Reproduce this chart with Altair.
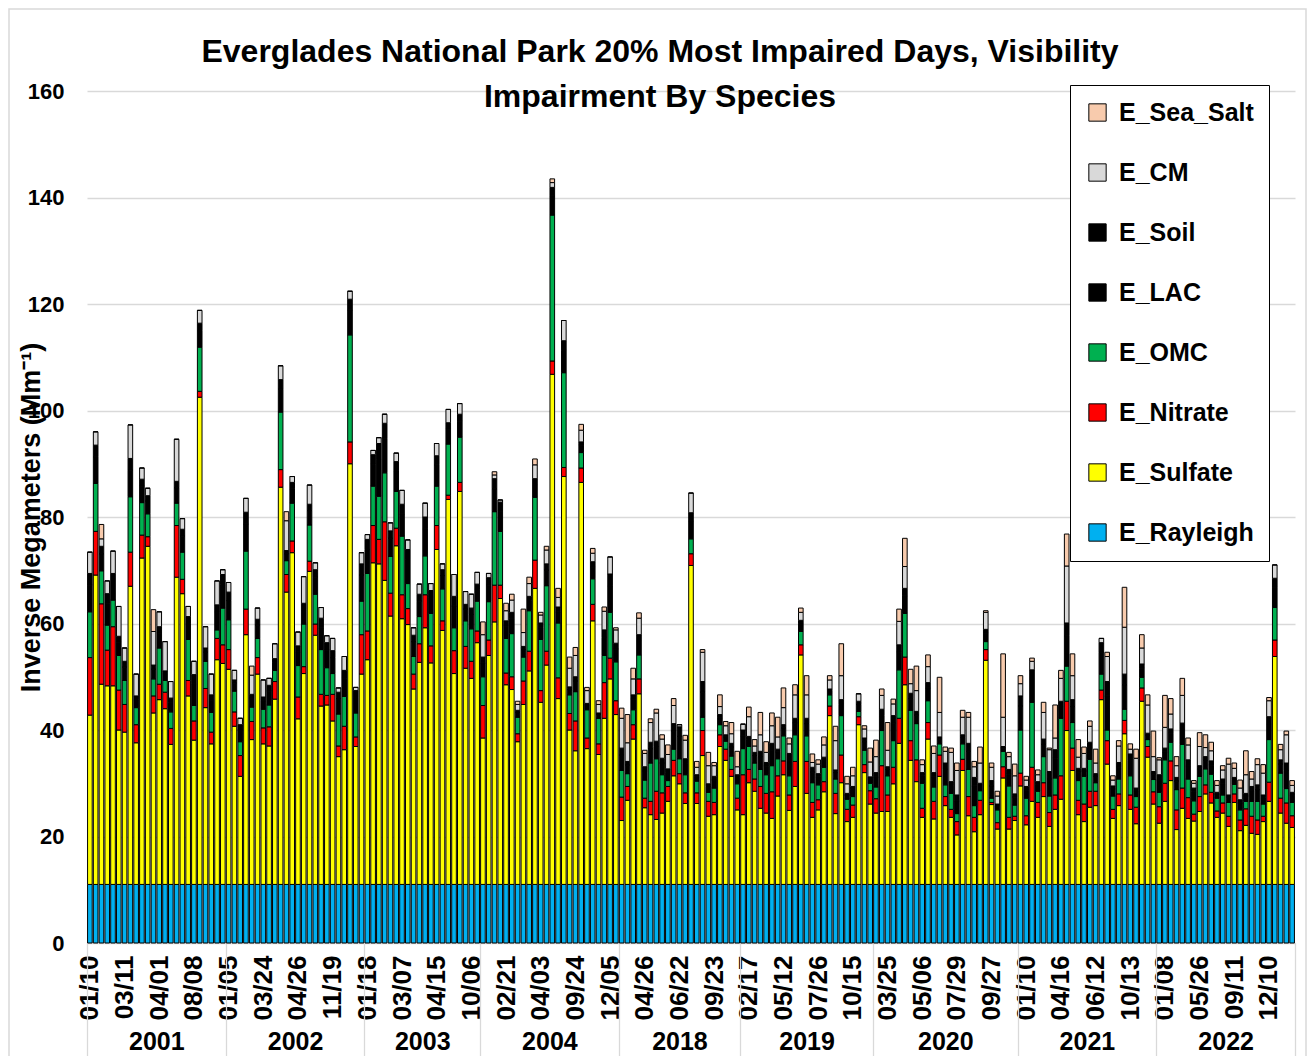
import altair as alt
import pandas as pd

# ---------------- data ----------------
TITLE_LINES = ["Everglades National Park 20% Most Impaired Days, Visibility",
               "Impairment By Species"]
YEARS = ["2001", "2002", "2003", "2004", "2018", "2019", "2020", "2021", "2022"]
DAYS_PER_YEAR = [24, 24, 20, 24, 21, 23, 25, 24, 24]

TICK_EVERY = 6
TICK_LABELS = ["01/10", "03/11", "04/01", "08/08",
               "01/05", "03/24", "04/26", "11/19",
               "01/18", "03/07", "04/15", "10/06",
               "02/21", "04/03", "09/24", "12/05",
               "04/26", "06/22", "09/23",
               "02/17", "05/12", "07/26", "10/15",
               "03/25", "05/06", "07/29", "09/27",
               "01/10", "04/16", "06/12", "10/13",
               "01/08", "05/26", "09/11", "12/10"]

RAYLEIGH = 11.0  # same on every day

SULFATE = [
    31.8, 58.1, 37.6, 37.3, 37.3, 29.0, 28.6, 56.0, 26.6, 61.3, 63.5, 32.2, 34.7, 33.0, 26.3, 57.7, 54.6, 35.4, 27.1, 91.5, 33.2, 26.4, 42.2, 41.5,
    40.4, 29.7, 20.3, 46.9, 27.2, 39.5, 26.4, 26.0, 34.8, 74.6, 54.9, 62.3, 31.1, 39.6, 58.8, 46.8, 33.5, 33.7, 30.7, 24.0, 25.3, 79.0, 25.9, 39.5,
    42.2, 60.4, 60.2, 57.1, 50.4, 63.6, 49.9, 48.8, 36.7, 41.7, 48.2, 41.6, 62.9, 47.7, 72.3, 39.6, 73.8, 40.6, 38.7, 45.4,
    27.5, 43.0, 49.3, 53.7, 37.5, 36.6, 26.8, 33.8, 40.1, 55.6, 34.2, 41.2, 95.8, 34.9, 76.6, 29.0, 25.1, 75.5, 25.5, 49.5, 24.4, 31.2, 38.6, 31.9,
    12.0, 15.8, 27.3, 35.8, 14.4, 13.1, 12.2, 13.4, 15.6, 20.4, 18.9, 15.2, 59.9, 15.2, 24.2, 12.8, 13.1, 25.9, 23.3, 20.3, 14.0,
    13.1, 19.1, 17.5, 14.3, 13.4, 12.4, 16.6, 20.6, 13.9, 18.4, 43.1, 17.1, 12.6, 14.0, 17.4, 31.7, 13.3, 19.1, 11.8, 12.6, 30.0, 21.0, 15.1,
    13.4, 13.7, 13.7, 18.9, 26.5, 37.5, 23.3, 19.3, 12.6, 27.3, 12.3, 20.3, 14.8, 12.6, 9.3, 21.4, 12.9, 9.9, 13.1, 42.1, 15.0, 10.4, 20.0, 10.4, 12.0,
    18.5, 11.2, 15.6, 12.6, 16.5, 10.9, 14.1, 16.0, 28.9, 21.4, 13.1, 11.8, 14.5, 14.8, 34.7, 22.6, 12.4, 14.8, 28.3, 14.1, 11.4, 34.4, 23.9, 15.1,
    11.5, 15.6, 19.5, 10.3, 14.3, 12.4, 11.9, 13.7, 17.0, 15.3, 12.6, 13.4, 10.9, 15.4, 10.1, 11.1, 9.6, 9.4, 11.8, 15.6, 42.8, 13.4, 11.5, 10.7,
]

NITRATE = [
    10.8, 8.2, 15.1, 6.7, 11.1, 7.5, 5.2, 6.4, 3.4, 4.3, 1.8, 3.2, 2.9, 3.1, 3.0, 9.7, 2.7, 2.9, 3.6, 1.1, 3.6, 2.2, 4.0, 3.5,
    3.7, 2.7, 3.9, 4.8, 3.4, 3.1, 3.0, 3.6, 3.3, 3.3, 3.3, 2.2, 4.1, 1.3, 1.9, 2.1, 2.2, 1.8, 5.0, 2.0, 4.4, 4.1, 1.8, 7.4,
    5.4, 7.0, 4.6, 11.0, 4.3, 3.3, 4.5, 3.0, 2.8, 3.5, 6.2, 3.2, 4.5, 1.8, 0.8, 4.3, 1.7, 4.1, 3.2, 2.2,
    6.1, 2.9, 6.9, 2.5, 2.2, 2.4, 1.5, 4.4, 3.7, 5.3, 2.2, 2.6, 2.5, 3.9, 1.7, 3.1, 5.6, 2.7, 2.0, 3.1, 2.0, 6.7, 3.9, 2.6,
    4.4, 2.6, 2.7, 2.8, 1.8, 2.5, 5.3, 3.8, 2.8, 2.9, 1.9, 2.0, 2.2, 2.0, 4.7, 2.8, 2.3, 2.2, 2.1, 1.3, 2.2,
    7.5, 2.5, 2.3, 4.1, 3.7, 5.0, 3.8, 2.6, 2.9, 4.7, 1.9, 6.0, 2.8, 1.9, 1.9, 1.8, 3.8, 5.2, 2.3, 2.3, 1.5, 1.5, 2.5,
    2.7, 8.6, 3.1, 3.1, 4.7, 5.2, 3.7, 4.1, 1.7, 3.1, 3.3, 4.0, 1.7, 1.5, 2.5, 2.1, 3.6, 2.7, 2.7, 2.0, 0.4, 1.2, 2.1, 2.2, 0.8,
    2.4, 1.7, 6.4, 2.8, 2.6, 2.6, 2.7, 4.4, 5.5, 4.2, 2.7, 3.3, 3.0, 2.7, 1.8, 4.4, 1.7, 2.2, 2.5, 2.7, 3.1, 2.5, 2.0, 2.3,
    3.1, 3.4, 3.7, 3.7, 3.8, 3.9, 1.3, 2.8, 1.7, 2.0, 1.2, 1.9, 1.9, 1.6, 2.0, 3.1, 3.2, 2.7, 1.0, 3.6, 3.1, 2.8, 3.8, 2.2,
]

OMC = [
    8.6, 9.0, 6.2, 4.7, 5.0, 6.5, 4.5, 10.4, 3.2, 6.1, 4.3, 3.2, 6.8, 2.2, 3.1, 4.2, 5.1, 7.7, 2.9, 8.3, 5.1, 3.7, 1.6, 6.9,
    5.6, 3.9, 2.6, 10.9, 2.7, 3.6, 3.5, 4.1, 2.1, 10.8, 2.6, 7.1, 5.9, 8.0, 6.8, 5.6, 8.4, 5.2, 3.9, 6.0, 5.6, 20.1, 4.5, 6.3,
    10.8, 7.4, 8.1, 9.2, 6.9, 6.9, 11.0, 4.7, 3.3, 5.1, 7.3, 6.1, 7.4, 6.0, 9.6, 4.3, 8.5, 4.8, 6.1, 5.6,
    5.4, 7.2, 13.8, 10.1, 6.5, 8.1, 3.1, 4.5, 7.6, 11.8, 9.6, 12.3, 27.4, 10.3, 17.8, 3.5, 5.5, 2.9, 5.3, 4.8, 4.8, 5.1, 8.6, 7.3,
    5.0, 2.4, 2.8, 4.5, 3.4, 7.2, 6.1, 3.4, 1.1, 2.1, 2.8, 3.4, 2.8, 2.2, 2.5, 1.7, 2.7, 1.9, 1.5, 2.5, 2.7,
    4.9, 4.3, 3.0, 3.2, 3.5, 4.9, 3.2, 4.7, 3.6, 5.0, 2.5, 4.8, 3.7, 2.8, 2.7, 2.1, 2.7, 7.4, 1.9, 1.6, 1.0, 2.7, 1.4,
    2.2, 6.6, 3.6, 5.0, 9.1, 8.2, 5.7, 6.8, 4.7, 4.1, 2.7, 2.1, 2.2, 3.0, 1.5, 2.9, 5.1, 2.2, 1.8, 1.5, 0.8, 2.4, 2.9, 5.9, 2.1,
    8.1, 3.3, 12.2, 2.1, 4.9, 3.1, 3.2, 10.8, 6.6, 4.8, 3.7, 5.2, 6.0, 1.6, 3.0, 2.0, 2.5, 2.8, 2.1, 3.6, 2.0, 2.0, 1.3, 2.3,
    2.7, 4.4, 3.5, 3.8, 8.2, 3.5, 2.5, 3.8, 3.0, 3.4, 2.4, 1.5, 2.6, 1.8, 1.9, 1.4, 2.8, 3.5, 2.3, 8.0, 6.1, 4.7, 2.7, 2.5,
]

LAC = [
    5.0, 5.0, 3.2, 4.1, 3.5, 2.5, 2.5, 5.0, 1.5, 3.1, 2.4, 1.8, 2.8, 1.3, 1.8, 2.9, 3.0, 3.0, 4.1, 3.1, 1.7, 2.3, 3.3, 4.4,
    3.6, 1.5, 2.2, 5.1, 1.7, 2.5, 1.6, 2.6, 1.5, 4.3, 1.3, 2.7, 2.6, 2.7, 2.7, 3.2, 4.1, 3.3, 3.0, 2.9, 3.4, 4.7, 2.9, 4.9,
    4.5, 4.1, 6.9, 6.5, 3.4, 3.9, 4.2, 4.5, 2.8, 2.9, 5.1, 3.0, 4.0, 2.5, 2.8, 4.1, 3.0, 2.2, 2.7, 2.2,
    2.6, 3.1, 4.3, 3.8, 2.3, 2.8, 0.9, 1.4, 1.9, 2.4, 2.2, 2.9, 3.6, 2.1, 4.2, 1.0, 2.0, 1.4, 0.8, 2.2, 0.7, 3.4, 5.0, 2.4,
    2.9, 1.6, 2.0, 2.7, 1.7, 2.7, 2.3, 2.2, 1.5, 3.4, 4.2, 2.1, 3.4, 0.8, 4.7, 1.1, 1.5, 1.3, 0.8, 1.7, 1.2,
    2.4, 1.3, 1.4, 2.4, 1.6, 2.9, 1.3, 1.5, 2.9, 2.2, 1.5, 2.3, 2.0, 1.5, 1.3, 0.8, 1.2, 2.1, 0.8, 1.3, 1.3, 1.6, 0.8,
    1.9, 2.8, 1.2, 3.3, 3.3, 3.3, 2.2, 1.6, 1.4, 2.4, 1.9, 0.9, 2.9, 1.5, 2.4, 1.2, 3.4, 3.7, 1.0, 1.6, 2.3, 0.8, 0.6, 2.2, 1.5,
    4.5, 1.5, 4.3, 1.3, 2.3, 3.2, 3.7, 2.2, 5.7, 3.0, 1.6, 1.0, 2.2, 1.2, 4.1, 6.4, 1.3, 2.2, 4.6, 2.9, 1.1, 1.7, 0.8, 1.0,
    2.3, 1.5, 1.7, 1.6, 2.8, 2.5, 1.7, 1.4, 1.6, 1.7, 0.8, 2.1, 1.0, 0.9, 1.3, 1.0, 2.0, 2.2, 1.2, 3.0, 3.8, 1.7, 3.4, 1.3,
]

SOIL = [
    2.2, 2.2, 1.4, 1.8, 1.5, 1.1, 1.1, 2.2, 0.7, 1.3, 1.0, 0.8, 1.2, 0.5, 0.8, 1.2, 1.3, 1.3, 1.7, 1.4, 0.8, 1.0, 1.4, 1.9,
    1.6, 0.6, 1.0, 2.2, 0.7, 1.1, 0.7, 1.1, 0.7, 1.8, 0.6, 1.2, 1.1, 1.2, 1.2, 1.4, 1.8, 1.4, 1.3, 1.2, 1.5, 2.0, 1.3, 2.1,
    1.9, 1.8, 3.0, 2.8, 1.4, 1.7, 1.8, 1.9, 1.2, 1.3, 2.2, 1.3, 1.7, 1.1, 1.2, 1.8, 1.3, 0.9, 1.2, 1.0,
    1.1, 1.4, 1.9, 1.7, 1.0, 1.2, 0.4, 0.6, 0.8, 1.1, 0.9, 1.2, 1.6, 0.9, 1.8, 0.5, 0.8, 0.6, 0.4, 1.0, 0.3, 1.4, 2.2, 1.1,
    1.3, 0.7, 0.8, 1.1, 0.8, 1.2, 1.0, 0.9, 0.7, 1.4, 1.8, 0.9, 1.5, 0.4, 2.0, 0.5, 0.7, 0.6, 0.4, 0.7, 0.5,
    1.1, 0.6, 0.6, 1.0, 0.7, 1.3, 0.5, 0.6, 1.3, 0.9, 0.6, 1.0, 0.9, 0.6, 0.6, 0.3, 0.5, 0.9, 0.3, 0.6, 0.6, 0.7, 0.4,
    0.8, 1.2, 0.5, 1.4, 1.4, 1.4, 1.0, 0.7, 0.6, 1.0, 0.8, 0.4, 1.2, 0.7, 1.1, 0.5, 1.5, 1.6, 0.4, 0.7, 1.0, 0.3, 0.3, 0.9, 0.6,
    1.9, 0.7, 1.8, 0.5, 1.0, 1.4, 1.6, 1.0, 2.4, 1.3, 0.7, 0.5, 1.0, 0.5, 1.8, 2.7, 0.6, 0.9, 2.0, 1.2, 0.5, 0.8, 0.4, 0.5,
    1.0, 0.7, 0.8, 0.7, 1.2, 1.1, 0.7, 0.6, 0.7, 0.8, 0.3, 0.9, 0.4, 0.4, 0.6, 0.5, 0.8, 0.9, 0.5, 1.3, 1.7, 0.8, 1.4, 0.6,
]

CM = [
    4.0, 2.5, 1.4, 2.4, 4.2, 5.6, 2.5, 6.3, 4.1, 2.1, 1.4, 6.3, 2.8, 5.5, 3.1, 7.9, 2.0, 1.9, 2.5, 2.4, 4.0, 3.9, 4.5, 0.9,
    1.8, 1.8, 1.2, 2.6, 3.6, 2.1, 3.2, 1.3, 2.8, 2.6, 5.6, 1.1, 2.6, 5.0, 3.6, 1.3, 2.0, 1.3, 2.3, 0.8, 2.6, 1.5, 0.6, 2.1,
    0.9, 0.8, 1.1, 1.7, 1.5, 1.6, 2.6, 1.8, 1.4, 1.9, 2.6, 1.3, 2.3, 1.1, 2.5, 4.1, 2.0, 2.4, 2.6, 2.2,
    4.2, 0.8, 0.7, 0.4, 1.9, 2.3, 1.1, 2.6, 2.4, 2.6, 1.5, 2.6, 0.9, 1.8, 3.8, 3.5, 4.0, 2.2, 2.4, 1.6, 1.6, 3.5, 3.2, 2.5,
    5.6, 3.5, 3.0, 3.1, 2.5, 3.7, 5.3, 3.6, 2.7, 3.4, 0.4, 3.5, 3.7, 1.4, 5.5, 3.4, 2.0, 1.5, 1.7, 1.8, 1.5,
    1.1, 3.7, 1.2, 3.1, 1.9, 3.3, 2.3, 3.2, 1.8, 4.4, 1.5, 4.4, 0.9, 1.8, 2.3, 1.7, 5.5, 4.5, 1.8, 2.0, 1.4, 1.7, 2.8,
    3.0, 2.6, 3.1, 2.2, 4.4, 4.1, 1.8, 3.9, 1.5, 3.0, 3.6, 4.6, 2.2, 5.5, 4.6, 3.3, 4.9, 2.0, 3.8, 3.2, 2.5, 1.5, 5.5, 2.4, 3.4,
    2.3, 1.2, 1.6, 1.3, 5.0, 4.1, 2.2, 4.3, 10.7, 4.5, 2.1, 2.8, 3.0, 2.0, 0.8, 4.7, 1.1, 3.1, 8.8, 0.9, 5.6, 3.0, 5.3, 2.8,
    2.8, 3.9, 2.8, 2.2, 5.2, 2.8, 0.9, 3.6, 1.7, 1.9, 1.3, 1.7, 5.8, 1.7, 2.2, 3.5, 1.4, 3.8, 4.1, 3.0, 2.5, 1.9, 5.3, 1.3,
]

SEA_SALT = [
    0, 0, 2.7, 0, 0, 0, 0, 0, 0, 0, 0, 4.1, 0, 0, 0, 0, 0, 0, 0, 0, 0, 0, 0, 0,
    0, 0, 0, 0, 1.7, 0, 0, 0, 0, 0, 1.7, 0, 0, 0, 0, 0, 0, 0, 0, 0, 0, 0, 0, 0,
    0, 0, 0, 0, 0, 0, 0, 0, 0, 0, 0, 0, 0, 0, 0, 0, 0, 0, 0, 0,
    2.4, 0, 0.6, 0, 1.4, 1.1, 0.6, 4.4, 1.2, 1.1, 0.5, 0.7, 0.7, 1.7, 0, 2.1, 1.5, 1.1, 0.6, 0.9, 0.7, 0.8, 0, 0.4,
    1.9, 5.3, 2.0, 1.0, 0.6, 0.7, 0.7, 0.8, 1.8, 1.3, 0, 0.9, 0, 1.1, 0.5, 2.5, 0.6, 2.2, 0.8, 2.1, 2.9,
    0, 1.8, 1.2, 4.2, 2.0, 2.4, 3.7, 3.7, 1.1, 1.9, 0.8, 3.6, 1.6, 0.8, 1.5, 0.8, 2.7, 6.0, 1.4, 1.6, 0, 0.6, 2.6,
    3.1, 1.2, 5.2, 0.9, 2.3, 5.3, 2.7, 4.6, 0.9, 2.2, 1.4, 6.6, 0.8, 0.8, 1.4, 1.3, 0.9, 1.0, 3.0, 0.3, 0.8, 0.9, 11.9, 0.8, 2.2,
    1.5, 0.7, 0.6, 0.9, 1.9, 0.3, 6.2, 1.5, 6.0, 4.1, 3.3, 1.2, 1.0, 2.6, 0, 0.8, 0.8, 1.0, 7.5, 1.0, 1.7, 2.5, 1.9, 4.8,
    0.4, 6.0, 2.9, 1.7, 3.2, 1.3, 0.5, 2.6, 2.4, 1.6, 0.9, 0.8, 1.1, 1.0, 1.5, 4.5, 1.4, 1.1, 1.6, 0.6, 0, 1.0, 0.7, 0.9,
]

# stacking order, bottom to top
SPECIES = ["E_Rayleigh", "E_Sulfate", "E_Nitrate", "E_OMC", "E_LAC", "E_Soil", "E_CM", "E_Sea_Salt"]
COLORS = ["#00B0F0", "#FFFF00", "#FF0000", "#00B050", "#000000", "#000000", "#D9D9D9", "#F8CBAD"]

# ---------------- build tables ----------------
N = sum(DAYS_PER_YEAR)
series = {
    "E_Rayleigh": [RAYLEIGH] * N,
    "E_Sulfate": SULFATE,
    "E_Nitrate": NITRATE,
    "E_OMC": OMC,
    "E_LAC": LAC,
    "E_Soil": SOIL,
    "E_CM": CM,
    "E_Sea_Salt": SEA_SALT,
}
rows = []
for k, sp in enumerate(SPECIES):
    vals = series[sp]
    assert len(vals) == N, (sp, len(vals), N)
    for i, v in enumerate(vals):
        rows.append({"day": i, "species": sp, "order": k, "value": float(v)})
df = pd.DataFrame(rows)

starts = []
s = 0
for c in DAYS_PER_YEAR:
    starts.append(s)
    s += c
year_df = pd.DataFrame({
    "year": YEARS,
    "center": [st + (c - 1) / 2 for st, c in zip(starts, DAYS_PER_YEAR)],
})
edge_df = pd.DataFrame({"edge": [st - 0.5 for st in starts] + [N - 0.5]})

FONT = "Liberation Sans"
GRID = "#D9D9D9"
W, H = 1208, 852
PAD = {"left": 79, "top": 83, "right": 12, "bottom": 113}

xscale = alt.Scale(domain=[-0.5, N - 0.5], nice=False, zero=False)
yscale = alt.Scale(domain=[0, 160], nice=False)

tick_values = list(range(0, TICK_EVERY * len(TICK_LABELS), TICK_EVERY))
tick_expr = "[" + ",".join("'%s'" % t for t in TICK_LABELS) + "][round(datum.value / %d)]" % TICK_EVERY
year_expr = ("[" + ",".join("'%s'" % y for y in YEARS) + "][indexof(["
             + ",".join(repr(c) for c in year_df["center"]) + "], datum.value)]")

legend_order = list(reversed(SPECIES))
legend_colors = list(reversed(COLORS))

bars = (
    alt.Chart(df)
    .transform_stack(stack="value", groupby=["day"], as_=["y0", "y1"],
                     sort=[alt.SortField("order", order="ascending")])
    .transform_calculate(x0="datum.day - 0.4", x1="datum.day + 0.4")
    .mark_rect(stroke="black", strokeWidth=1)
    .encode(
        x=alt.X("x0:Q", scale=xscale,
                axis=alt.Axis(orient="bottom", values=tick_values, labelExpr=tick_expr,
                              labelAngle=270, labelFontSize=26, labelFontWeight="bold",
                              labelFont=FONT, labelPadding=12, labelOverlap=False,
                              labelFlush=False, ticks=False, grid=False,
                              domainColor=GRID, title=None)),
        x2="x1:Q",
        y=alt.Y("y0:Q", scale=yscale,
                axis=alt.Axis(values=list(range(0, 161, 20)), labelFontSize=22,
                              labelFontWeight="bold", labelFont=FONT, labelPadding=23,
                              ticks=False, domain=False, gridColor=GRID, gridWidth=1.3,
                              title="Inverse Megameters (Mm\u207b\u00b9)",
                              titleFontSize=27, titleFontWeight="bold", titleFont=FONT,
                              titleAngle=270, titleX=-56, titleY=426,
                              titleAlign="center", titleBaseline="middle")),
        y2="y1:Q",
        color=alt.Color("species:N", title=None,
                        scale=alt.Scale(domain=legend_order, range=legend_colors),
                        legend=alt.Legend(orient="none", legendX=983, legendY=-6,
                                          direction="vertical",
                                          symbolType="square", symbolSize=300,
                                          symbolStrokeColor="black", symbolStrokeWidth=1,
                                          labelFontSize=25, labelFontWeight="bold",
                                          labelFont=FONT, labelLimit=300, labelOffset=9,
                                          rowPadding=34, padding=15,
                                          fillColor="white", strokeColor="black")),
    )
)

year_layer = (
    alt.Chart(year_df)
    .mark_rule(opacity=0)
    .encode(x=alt.X("center:Q", scale=xscale,
                    axis=alt.Axis(orient="bottom", values=list(year_df["center"]),
                                  labelExpr=year_expr, labelFontSize=25,
                                  labelFontWeight="bold", labelFont=FONT, labelAngle=0,
                                  labelPadding=86, labelOverlap=False, labelFlush=False,
                                  ticks=False, domain=False, grid=False, title=None)))
)

edge_layer = (
    alt.Chart(edge_df)
    .mark_rule(opacity=0)
    .encode(x=alt.X("edge:Q", scale=xscale,
                    axis=alt.Axis(orient="bottom", values=list(edge_df["edge"]),
                                  labels=False, ticks=True, tickSize=PAD["bottom"],
                                  tickColor=GRID, tickWidth=1.3, domain=False,
                                  grid=False, title=None)))
)

# light grey chart-area border (decoration, not data)
frame = (
    alt.Chart(pd.DataFrame({"f": [0]}))
    .mark_rect(fill="transparent", stroke=GRID, strokeWidth=1.5)
    .encode(x=alt.value(-PAD["left"] + 1), x2=alt.value(W + PAD["right"] - 1),
            y=alt.value(-PAD["top"] + 1), y2=alt.value(H + PAD["bottom"] + 20))
)

# two-line chart title, centred a little left of the plot centre as in the reference
title_layers = [
    alt.Chart(pd.DataFrame({"t": [line]}))
    .mark_text(font=FONT, fontSize=32, fontWeight="bold", color="black",
               align="center", baseline="middle")
    .encode(text="t:N", x=alt.value(573), y=alt.value(yv))
    for line, yv in zip(TITLE_LINES, [-39, 6])
]

chart = (
    alt.layer(frame, bars, year_layer, edge_layer, *title_layers)
    .resolve_axis(x="independent")
    .properties(
        width=W, height=H,
        padding=PAD,
        autosize=alt.AutoSizeParams(type="none"),
    )
    .configure(font=FONT)
    .configure_view(strokeWidth=0)
    .configure_axis(labelColor="black", titleColor="black")
    .configure_legend(labelColor="black")
)

chart.save("out.html", embed_options={"renderer": "svg", "actions": False})
